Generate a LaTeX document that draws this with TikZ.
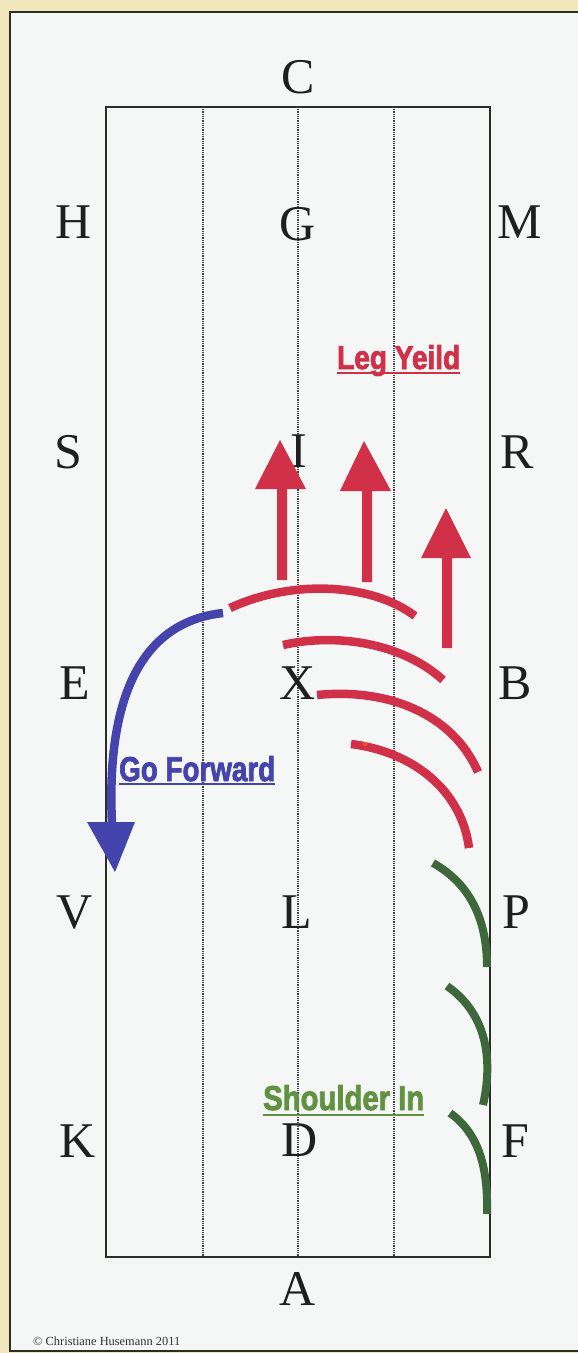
\documentclass[tikz,border=0pt]{standalone}
\usepackage{fontspec}
\setmainfont{Liberation Serif}
\newfontfamily\labelsans[BoldFeatures={FakeBold=2.5}]{Liberation Sans}
\definecolor{beige}{RGB}{240,231,188}
\definecolor{paper}{RGB}{245,247,246}
\definecolor{frameline}{RGB}{45,45,40}
\definecolor{legred}{RGB}{208,48,72}
\definecolor{fwdblue}{RGB}{68,68,172}
\definecolor{siGreen}{RGB}{62,104,60}
\definecolor{siText}{RGB}{96,146,66}
\begin{document}
\begin{tikzpicture}[x=1pt,y=-1pt,
  letter/.style={font=\fontsize{50}{50}\selectfont, text=black!88, anchor=base, inner sep=0pt},
  arena/.style={draw=frameline, line width=1.6pt},
  dotline/.style={draw=black!75, line width=1.6pt, dash pattern=on 0.9pt off 0.9pt},
  redarc/.style={draw=legred, line width=8.5pt},
  greenarc/.style={draw=siGreen, line width=8pt},
  bluearc/.style={draw=fwdblue, line width=8.5pt},
  movetext/.style={inner sep=0pt, anchor=base west, font=\labelsans\bfseries}
]
\useasboundingbox (0,0) rectangle (578,1353);
% background
\fill[beige] (0,0) rectangle (578,1353);
\fill[paper] (10,12) rectangle (578,1351);
\draw[frameline, line width=2pt] (578,12) -- (10,12) -- (10,1351) -- (578,1351);
% arena
\draw[arena] (106,107) rectangle (490,1257);
\coordinate (d1t) at (203,107); \coordinate (d1b) at (203,1257);
\coordinate (d2t) at (298,107); \coordinate (d2b) at (298,1257);
\coordinate (d3t) at (394,107); \coordinate (d3b) at (394,1257);
\draw[dotline] (d1t) -- (d1b);
\draw[dotline] (d2t) -- (d2b);
\draw[dotline] (d3t) -- (d3b);
% letters
\node[letter] (C) at (298,93) {C};
\node[letter] (H) at (74,238) {H};
\node[letter] (G) at (298,240) {G};
\node[letter] (M) at (520,238) {M};
\node[letter] (S) at (68,468) {S};
\node[letter] (I) at (299,467) {I};
\node[letter] (R) at (517,468) {R};
\node[letter] (E) at (75,699) {E};
\node[letter] (X) at (298,699) {X};
\node[letter] (B) at (515,699) {B};
\node[letter] (V) at (75,928) {V};
\node[letter] (L) at (297,928) {L};
\node[letter] (P) at (516,928) {P};
\node[letter] (K) at (78,1157) {K};
\node[letter] (D) at (300,1156) {D};
\node[letter] (F) at (515,1157) {F};
\node[letter] (A) at (298,1305) {A};
% red leg-yield arrows
\fill[legred] (277,580) -- (277,489) -- (255,489) -- (280,440) -- (306,489) -- (287,489) -- (287,580) -- cycle;
\fill[legred] (362,582) -- (362,491) -- (340,491) -- (364,441) -- (391,491) -- (372,491) -- (372,582) -- cycle;
\fill[legred] (442,648) -- (442,558) -- (421,558) -- (446,508) -- (471,558) -- (452,558) -- (452,648) -- cycle;
% red arcs
\draw[redarc] (230,608) .. controls (290,580) and (370,582) .. (415,616);
\draw[redarc] (283,645) .. controls (340,632) and (405,645) .. (443,680);
\draw[redarc] (317,695) .. controls (385,688) and (452,712) .. (478,772);
\draw[redarc] (351,744) .. controls (415,752) and (462,792) .. (469,848);
\draw[orange, line width=0.6pt] (365,744) circle (1.8);
% blue go-forward arrow
\coordinate (bstart) at (223,613);
\coordinate (bend) at (112,824);
\draw[bluearc] (bstart) .. controls (140,622) and (106,700) .. (bend);
\fill[fwdblue] (87,822) -- (135,822) -- (115,872) -- cycle;
% green shoulder-in arcs
\draw[greenarc] (433,863) .. controls (472,885) and (487,922) .. (487,967);
\draw[greenarc] (447,986) .. controls (490,1016) and (492,1065) .. (483,1105);
\draw[greenarc] (450,1113) .. controls (481,1135) and (488,1172) .. (487,1214);
% labels
\node[movetext, text=legred] (legyield) at (337,369) {\resizebox{123pt}{24pt}{Leg Yeild}};
\draw[legred, line width=2pt] (337,373) -- (460,373);
\node[movetext, text=fwdblue] (goforward) at (119,781) {\resizebox{156pt}{25pt}{Go Forward}};
\draw[fwdblue, line width=2pt] (119,784) -- (275,784);
\node[movetext, text=siText] (shoulderin) at (263,1110) {\resizebox{161pt}{25pt}{Shoulder In}};
\draw[siText, line width=2pt] (263,1115) -- (424,1115);
\node[inner sep=0pt, anchor=base west, text=black!80] (copy) at (33,1345) {\resizebox{147pt}{!}{\fontsize{10}{10}\selectfont \textcopyright\ Christiane Husemann 2011}};
\end{tikzpicture}
\end{document}
